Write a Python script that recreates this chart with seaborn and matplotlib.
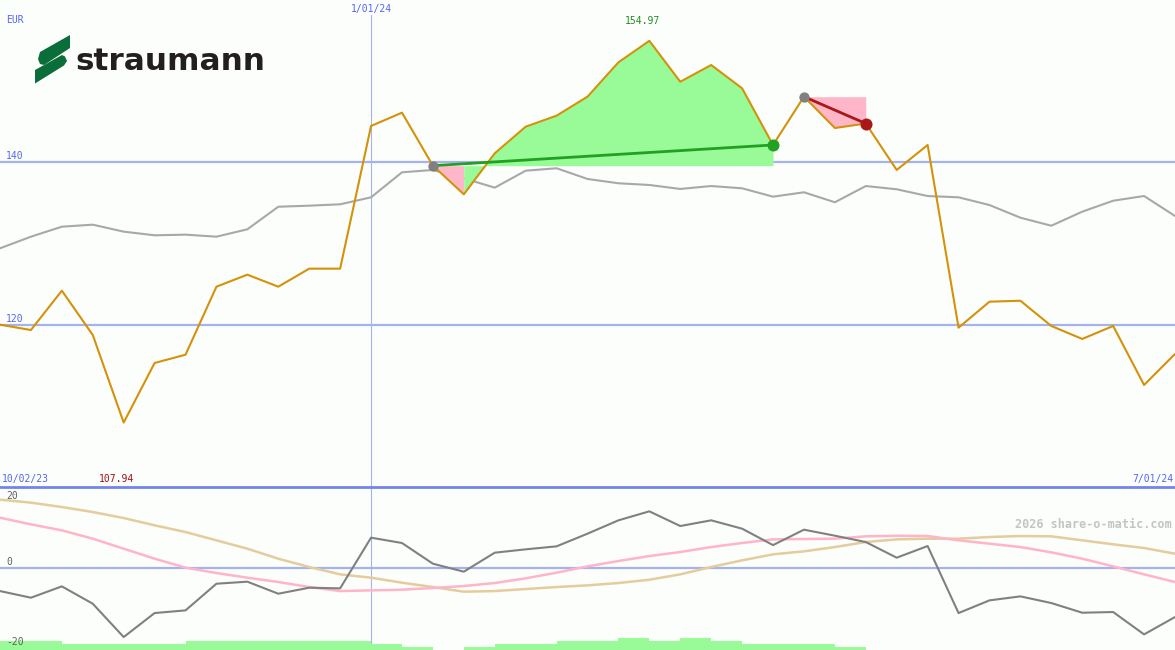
import matplotlib
matplotlib.use("Agg")
import numpy as np
import pandas as pd
import matplotlib.pyplot as plt
import seaborn as sns
from matplotlib.patches import Polygon
from matplotlib.transforms import Affine2D

sns.set_theme(style="white")
plt.rcParams["font.family"] = ["DejaVu Sans Mono", "DejaVu Sans"]

# weekly closes, 10/02/23 .. 7/01/24
price = [120.0, 119.34, 124.19, 118.73, 107.94, 115.28, 116.30, 124.68, 126.16, 124.68,
         126.90, 126.90, 144.48, 146.12, 139.59, 136.06, 141.11, 144.39, 145.75, 148.09,
         152.32, 154.97, 149.93, 151.99, 149.12, 142.14, 148.09, 144.23, 144.78, 139.06,
         142.14, 119.63, 122.83, 122.95, 119.84, 118.24, 119.84, 112.57, 116.39]
bench = [129.41, 130.84, 132.07, 132.32, 131.46, 131.01, 131.09, 130.84, 131.75, 134.53,
         134.66, 134.83, 135.69, 138.77, 139.06, 138.03, 136.88, 138.97, 139.27, 137.95,
         137.42, 137.21, 136.72, 137.08, 136.80, 135.77, 136.31, 135.08, 137.08, 136.68,
         135.85, 135.69, 134.74, 133.18, 132.19, 133.92, 135.27, 135.85, 133.39]
momentum = [-5.79, -7.44, -4.63, -8.93, -17.19, -11.24, -10.58, -3.97, -3.47, -6.45,
            -4.96, -5.12, 7.44, 6.12, 0.99, -0.99, 3.72, 4.55, 5.29, 8.43,
            11.74, 13.97, 10.33, 11.74, 9.67, 5.60, 9.42, 7.93, 6.36, 2.48,
            5.37, -11.24, -8.10, -7.11, -8.76, -11.16, -10.99, -16.53, -12.23]
fast_avg = [12.40, 10.74, 9.26, 7.19, 4.71, 2.23, 0.0, -1.32, -2.48, -3.55,
            -4.79, -5.79, -5.62, -5.45, -5.04, -4.55, -3.80, -2.64, -1.24, 0.33,
            1.65, 2.89, 3.88, 5.12, 6.12, 7.02, 7.11, 7.19, 7.77, 7.93,
            7.85, 6.78, 5.95, 5.12, 3.80, 2.23, 0.33, -1.65, -3.55]
slow_avg = [16.86, 16.12, 15.04, 13.80, 12.31, 10.50, 8.84, 6.78, 4.71, 2.23,
            0.17, -1.65, -2.48, -3.72, -4.79, -5.95, -5.79, -5.29, -4.79, -4.38,
            -3.80, -2.98, -1.65, 0.17, 1.82, 3.31, 4.05, 5.12, 6.36, 7.02,
            7.19, 7.19, 7.60, 7.85, 7.77, 6.78, 5.79, 4.88, 3.47]
strength = [3, 3, 2, 2, 2, 2, 3, 3, 3, 3,
            3, 3, 2, 1, 0, 1, 2, 2, 3, 3,
            4, 3, 4, 3, 2, 2, 2, 1, 0, 0,
            0, 0, 0, 0, 0, 0, 0, 0, 0]
trade_entry = [14, 26]
trade_exit = [25, 28]
price_levels = [140, 120]
mom_levels = [20, 0, -20]
date_first, date_mid, date_last = "10/02/23", "1/01/24", "7/01/24"
mid_index = 12

BG = "#FCFEFC"
ORANGE = "#D4920A"
GRID = "#A4B2F0"
SEP = "#7483EE"
BLUE_TXT = "#5566F2"
GAIN = "#22A022"
GAIN_FILL = "#98FB98"
LOSS = "#A81818"
LOSS_FILL = "#FFB6C8"

W, H = 1175, 650
df = pd.DataFrame({"i": np.arange(len(price)), "price": price, "bench": bench,
                   "mom": momentum, "fast": fast_avg, "slow": slow_avg,
                   "strength": strength})
n = len(df) - 1

fig = plt.figure(figsize=(W / 100, H / 100), dpi=100)
fig.patch.set_facecolor(BG)
split = 163 / H
ax = fig.add_axes([0, split, 1, 1 - split])
axb = fig.add_axes([0, 0, 1, split])
for a in (ax, axb):
    a.set_xlim(0, n)
    a.axis("off")
ax.set_ylim(100, 160)
axb.set_ylim(-20.4, 20)

# grid lines
for v in price_levels:
    ax.axhline(v, color=GRID, lw=1.6, zorder=1)
axb.axhline(0, color=GRID, lw=1.6, zorder=1)
ax.axvline(mid_index, ymax=1 - 15 / 487, color=GRID, lw=0.8, zorder=1)
axb.axvline(mid_index, color=GRID, lw=0.8, zorder=1)
axb.axhline(20, color=SEP, lw=2, zorder=6, clip_on=False)

# price panel
sns.lineplot(data=df, x="i", y="bench", ax=ax, color="#A8A8A8", lw=1.5, zorder=2)
for e, x in zip(trade_entry, trade_exit):
    base = price[e]
    # group consecutive segments of the same colour so the fill has no seams
    runs = []
    for k in range(e, x):
        col = GAIN_FILL if price[k + 1] >= base else LOSS_FILL
        if runs and runs[-1][0] == col:
            runs[-1][2] = k + 1
        else:
            runs.append([col, k, k + 1])
    for col, a0, a1 in runs:
        ax.fill_between(df["i"][a0:a1 + 1], df["price"][a0:a1 + 1], base,
                        color=col, lw=0, zorder=2.5)
sns.lineplot(data=df, x="i", y="price", ax=ax, color=ORANGE, lw=1.5, zorder=3)
for e, x in zip(trade_entry, trade_exit):
    col = GAIN if price[x] >= price[e] else LOSS
    ax.plot([e, x], [price[e], price[x]], color=col, lw=2, zorder=4)
    ax.scatter([e], [price[e]], s=55, color="#808080", zorder=5, lw=0)
    ax.scatter([x], [price[x]], s=75, color=col, zorder=5, lw=0)

# momentum panel
sns.lineplot(data=df, x="i", y="slow", ax=axb, color="#E4CC9C", lw=1.8, zorder=2)
sns.lineplot(data=df, x="i", y="fast", ax=axb, color="#FFB4C8", lw=1.8, zorder=3)
sns.lineplot(data=df, x="i", y="mom", ax=axb, color="#808080", lw=1.5, zorder=4)
axb2 = axb.twinx()
axb2.set_ylim(0, 52.5)
axb2.axis("off")
axb2.fill_between(df["i"], 0, df["strength"], step="post", color=GAIN_FILL, lw=0, zorder=1)

# labels
fs = 7
ax.annotate("EUR", xy=(0, 160), xytext=(6, -20), textcoords="offset pixels",
            color=BLUE_TXT, fontsize=fs, va="center")
for v in price_levels:
    ax.annotate(str(v), xy=(0, v), xytext=(6, 6), textcoords="offset pixels",
                color=BLUE_TXT, fontsize=fs, va="center")
for v in mom_levels:
    off = -9 if v == max(mom_levels) else 6
    axb2.annotate(str(v), xy=(0, v), xycoords=axb.transData, xytext=(6, off),
                  textcoords="offset pixels", color="#606060", fontsize=fs,
                  va="center", zorder=7)
ax.annotate(date_mid, xy=(mid_index, 160), xytext=(0, -9), textcoords="offset pixels",
            color=BLUE_TXT, fontsize=fs, ha="center", va="center")
ax.annotate(date_first, xy=(0, 100), xytext=(2, 8), textcoords="offset pixels",
            color=BLUE_TXT, fontsize=fs, va="center")
ax.annotate(date_last, xy=(n, 100), xytext=(-2, 8), textcoords="offset pixels",
            color=BLUE_TXT, fontsize=fs, ha="right", va="center")
imax, imin = int(np.argmax(price)), int(np.argmin(price))
ax.annotate(f"{price[imax]:.2f}", xy=(imax, 160), xytext=(-7, -21), textcoords="offset pixels",
            color="#228B22", fontsize=fs, ha="center", va="center")
ax.annotate(f"{price[imin]:.2f}", xy=(imin, 100), xytext=(-7, 8), textcoords="offset pixels",
            color="#A01010", fontsize=fs, ha="center", va="center")
axb.annotate("2026 share-o-matic.com", xy=(n, 20), xytext=(-3, -37), textcoords="offset pixels",
             color="#C4C4C4", fontsize=8.5, fontweight="bold", ha="right", va="center")

# logo
px = Affine2D().scale(1 / W, -1 / H).translate(0, 1) + fig.transFigure
upper = [(70, 35), (70, 48), (44, 65), (40, 64), (38, 59), (40, 52)]
lower = [(35, 70), (62, 55), (65, 56.5), (67, 61), (64, 65.5), (35, 83.5)]
for poly in (upper, lower):
    fig.patches.append(Polygon(poly, closed=True, transform=px, color="#0A6E3A", lw=0))
fig.text(75 / W, 1 - 70 / H, "straumann", fontsize=22.4, fontweight="bold",
         family="DejaVu Sans", color="#231F20", va="baseline", ha="left")

fig.savefig("out.png", dpi=100, facecolor=BG)
